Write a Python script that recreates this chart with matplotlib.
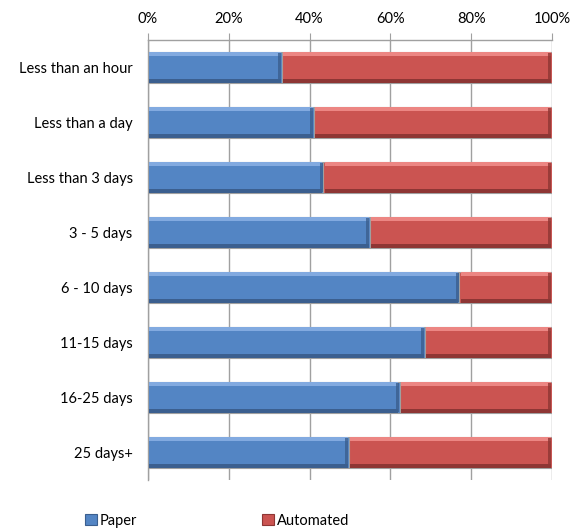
import matplotlib
matplotlib.use("Agg")
import matplotlib.pyplot as plt
from matplotlib.patches import Patch
import numpy as np

categories = [
    "Less than an hour",
    "Less than a day",
    "Less than 3 days",
    "3 - 5 days",
    "6 - 10 days",
    "11-15 days",
    "16-25 days",
    "25 days+",
]
paper = [0.331, 0.411, 0.434, 0.549, 0.771, 0.685, 0.623, 0.497]
automated = [1 - p for p in paper]
x_ticks = [0, 0.2, 0.4, 0.6, 0.8, 1.0]
x_ticklabels = ["0%", "20%", "40%", "60%", "80%", "100%"]

SERIES = [
    # name, main, highlight, shadow
    ("Paper", "#5385C4", "#82AAE0", "#3B5F8F"),
    ("Automated", "#CB5451", "#EC8683", "#8E3634"),
]

plt.rcParams["font.family"] = ["Lato", "DejaVu Sans"]

fig = plt.figure(figsize=(5.72, 5.30), dpi=100)
ax = fig.add_axes([148 / 572, 1 - 480 / 530, 404 / 572, 440 / 530])

y = np.arange(len(categories))
h = 0.57
band = 0.07

lefts = np.zeros(len(categories))
for (name, main, light, dark), vals in zip(SERIES, [paper, automated]):
    vals = np.array(vals)
    ax.barh(y, vals, h, left=lefts, color=main, edgecolor="#A0A0A0",
            linewidth=0.8, zorder=3)
    # bevel: light top band, dark bottom band, dark right edge
    ax.barh(y - h / 2 + band / 2 + 0.01, vals - 0.006, band, left=lefts + 0.003,
            color=light, linewidth=0, zorder=4)
    ax.barh(y + h / 2 - band / 2 - 0.01, vals - 0.006, band, left=lefts + 0.003,
            color=dark, linewidth=0, zorder=4)
    ax.barh(y, 0.007, h - 0.04, left=lefts + vals - 0.009,
            color=dark, linewidth=0, zorder=4, alpha=0.8)
    lefts = lefts + vals

ax.set_xlim(0, 1)
ax.set_ylim(len(categories) - 0.5, -0.5)
ax.xaxis.tick_top()
ax.set_xticks(x_ticks)
ax.set_xticklabels(x_ticklabels, fontsize=10.5)
ax.tick_params(axis="x", length=5, color="#A0A0A0", pad=5)
ax.set_yticks(y)
ax.set_yticklabels(categories, fontsize=10.5)
ax.tick_params(axis="y", length=0, pad=11)
ax.grid(axis="x", color="#A0A0A0", linewidth=1, zorder=0)
for side in ["right", "bottom"]:
    ax.spines[side].set_visible(False)
for side in ["top", "left"]:
    ax.spines[side].set_color("#A0A0A0")
    ax.spines[side].set_linewidth(1)

handles = [Patch(facecolor=main, edgecolor=dark, linewidth=0.8)
           for _, main, _, dark in SERIES]
fig.legend(handles, [s[0] for s in SERIES], loc="lower left",
           bbox_to_anchor=(85 / 572, 0.004), ncol=2, frameon=False,
           fontsize=10.5, handlelength=0.8, handleheight=0.8,
           handletextpad=0.2, columnspacing=8.6, borderpad=0,
           borderaxespad=0)

fig.savefig("out.png", dpi=100)
